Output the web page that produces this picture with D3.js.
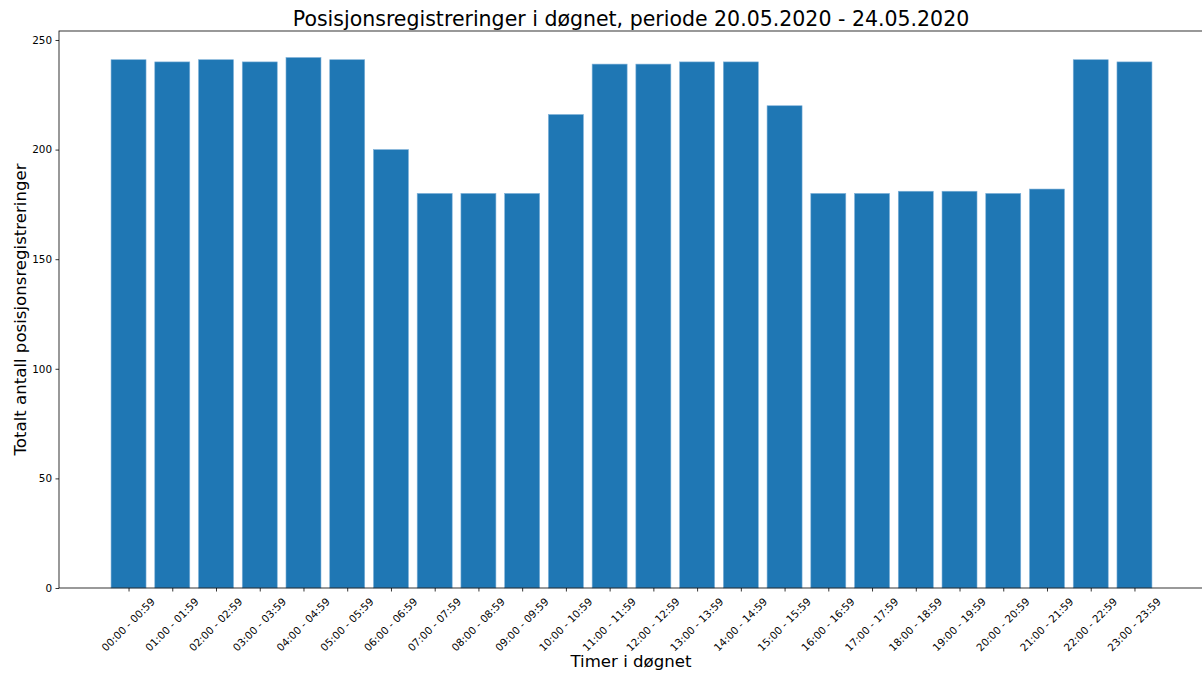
<!DOCTYPE html>
<html><head><meta charset="utf-8">
<script src="https://cdn.jsdelivr.net/npm/d3@7"></script>
<style>
html,body{margin:0;padding:0;background:#fff;overflow:hidden;}
svg{display:block;font-family:"DejaVu Sans",sans-serif;}
</style></head>
<body>
<svg id="chart" width="1202" height="675"></svg>
<script>
const categories = ["00:00 - 00:59","01:00 - 01:59","02:00 - 02:59","03:00 - 03:59","04:00 - 04:59","05:00 - 05:59","06:00 - 06:59","07:00 - 07:59","08:00 - 08:59","09:00 - 09:59","10:00 - 10:59","11:00 - 11:59","12:00 - 12:59","13:00 - 13:59","14:00 - 14:59","15:00 - 15:59","16:00 - 16:59","17:00 - 17:59","18:00 - 18:59","19:00 - 19:59","20:00 - 20:59","21:00 - 21:59","22:00 - 22:59","23:00 - 23:59"];
const values = [241,240,241,240,242,241,200,180,180,180,216,239,239,240,240,220,180,180,181,181,180,182,241,240];
const yTicks = [0,50,100,150,200,250];
const title = "Posisjonsregistreringer i døgnet, periode 20.05.2020 - 24.05.2020";
const xLabel = "Timer i døgnet";
const yLabel = "Totalt antall posisjonsregistreringer";

const svg = d3.select("#chart");
const L = 59, R = 1204, T = 31, B = 588;
const barW = 0.8;
const n = categories.length;
const xMin = -barW/2, xMax = n - 1 + barW/2, pad = (xMax - xMin) * 0.05;
const x = d3.scaleLinear().domain([xMin - pad, xMax + pad]).range([L, R]);
const yMaxData = d3.max(values) * 1.05;
const y = d3.scaleLinear().domain([0, yMaxData]).range([B, T]);
const tickFont = 10.4;

// bars
svg.append("g").selectAll("rect").data(values).join("rect")
  .attr("x", (d,i) => x(i - barW/2))
  .attr("width", (d,i) => x(i + barW/2) - x(i - barW/2))
  .attr("y", d => y(d))
  .attr("height", d => y(0) - y(d))
  .attr("fill", "#1f77b4")
  .attr("stroke", "#7fb1d9")
  .attr("stroke-width", 0.6);

// y axis
const yAxis = d3.axisLeft(y).tickValues(yTicks).tickSize(3.5).tickPadding(3.5);
const gy = svg.append("g").attr("transform", `translate(${L},0)`).call(yAxis);
gy.select(".domain").remove();
gy.selectAll("line").attr("stroke", "#000").attr("stroke-width", 0.8);
gy.selectAll("text").attr("font-size", tickFont).attr("fill", "#000").attr("font-family", "DejaVu Sans");

// x axis
const xAxis = d3.axisBottom(x).tickValues(d3.range(n)).tickFormat(i => categories[i]).tickSize(3.5).tickPadding(3.5);
const gx = svg.append("g").attr("transform", `translate(0,${B})`).call(xAxis);
gx.select(".domain").remove();
gx.selectAll("line").attr("stroke", "#000").attr("stroke-width", 0.8);
gx.selectAll("text")
  .attr("font-size", tickFont).attr("fill", "#000").attr("font-family", "DejaVu Sans")
  .attr("dy", null)
  .attr("text-anchor", "middle")
  .attr("dominant-baseline", "central")
  .each(function(){
    const t = d3.select(this);
    const len = this.getComputedTextLength();
    const h = tickFont * 1.1;
    const half = (len + h) * Math.SQRT1_2 / 2;
    t.attr("y", null).attr("transform", `translate(-1,${7.5 + half}) rotate(-45)`);
  });

// spines
const sp = svg.append("g").attr("fill","none").attr("stroke","#000").attr("stroke-width",0.8);
sp.append("rect").attr("x", L).attr("y", T).attr("width", R - L).attr("height", B - T);

// title and labels
const cx = (L + 1201) / 2 + 1;
svg.append("text").attr("x", cx).attr("y", 25.5).attr("text-anchor","middle")
  .attr("font-size", 20.5).attr("fill","#000").text(title);
svg.append("text").attr("x", cx).attr("y", 666.5).attr("text-anchor","middle")
  .attr("font-size", 16.6).attr("fill","#000").text(xLabel);
svg.append("text").attr("transform", `translate(26,${(T+B)/2}) rotate(-90)`).attr("text-anchor","middle")
  .attr("font-size", 16.6).attr("fill","#000").text(yLabel);
</script>
</body></html>
